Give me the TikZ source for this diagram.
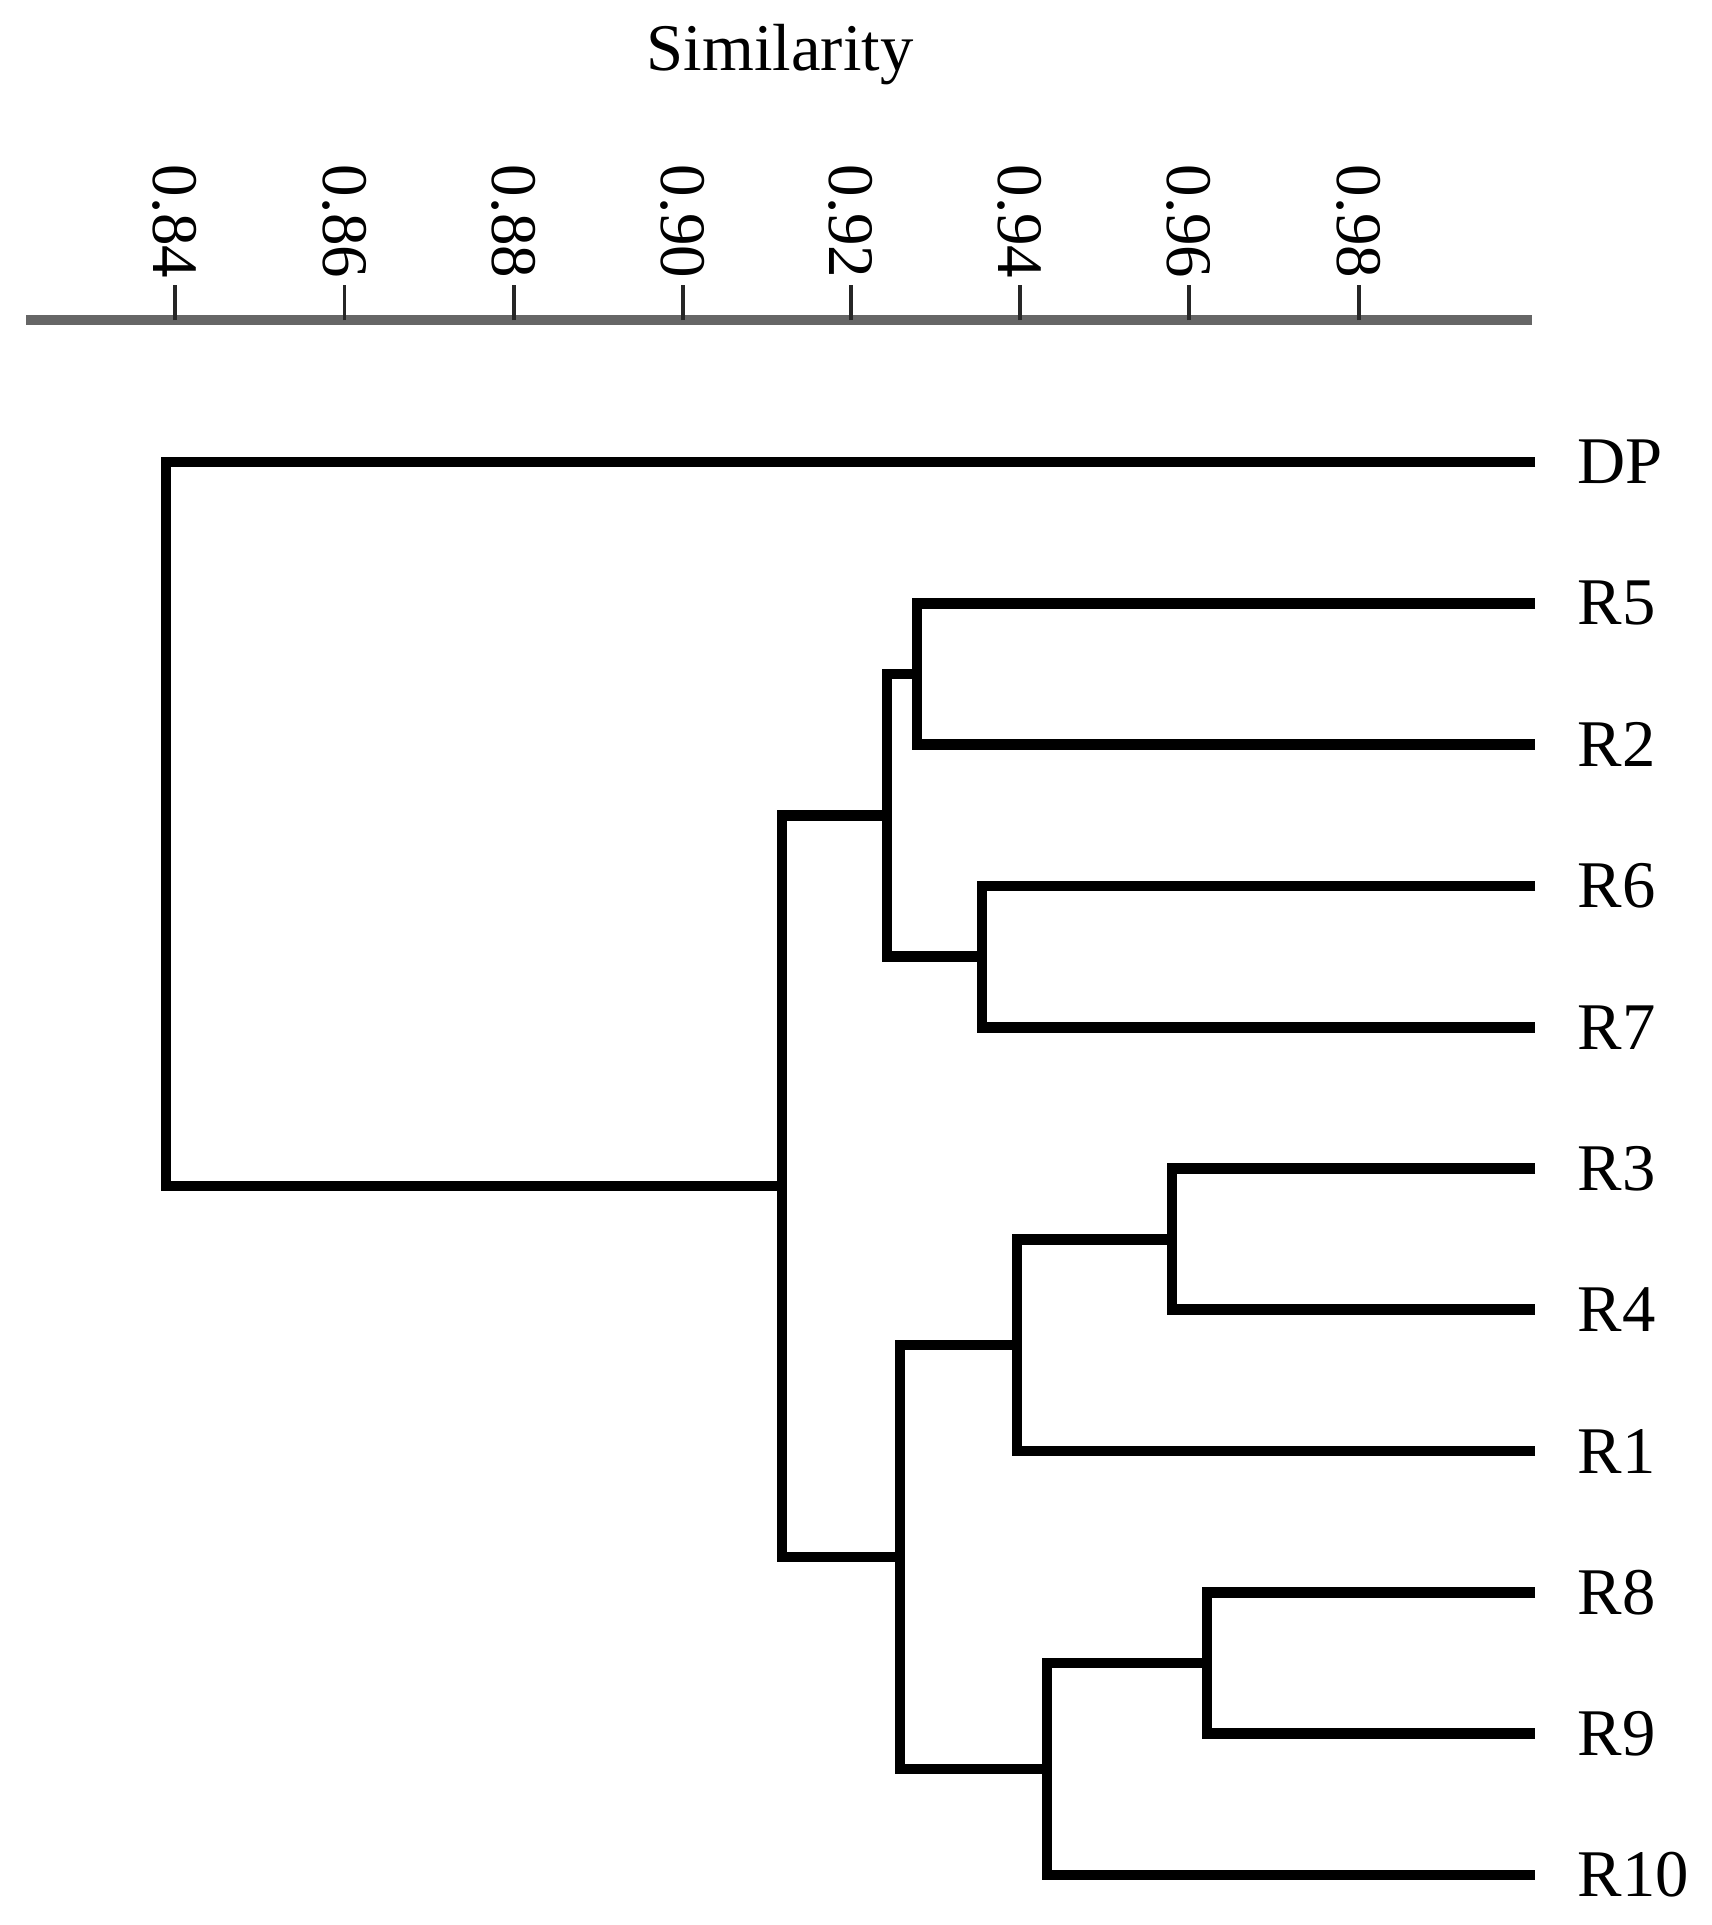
\documentclass[tikz,border=0pt]{standalone}
\usepackage{fontspec}
\setmainfont{Liberation Serif}
\begin{document}
\begin{tikzpicture}[x=0.3pt,y=-0.3pt,
  branch/.style={line width=3.2pt,black,line join=miter},
  axisline/.style={line width=2.8pt,black!60},
  tickmark/.style={line width=1.1pt,black!85},
  ticklabel/.style={rotate=-90,anchor=east,inner sep=0pt,font=\fontsize{19.5}{20}\selectfont},
  leaflabel/.style={anchor=west,inner sep=0pt,font=\fontsize{20}{22}\selectfont},
  titlelabel/.style={anchor=base,inner sep=0pt,font=\fontsize{20}{22}\selectfont}]
\useasboundingbox (0,0) rectangle (1711,1925);
% title
\node[titlelabel] (title) at (780,70) {Similarity};
% axis
\coordinate (axL) at (26,320);
\coordinate (axR) at (1532,320);
\draw[axisline] (axL) -- (axR);
\foreach \v/\x [count=\i] in {0.84/175,0.86/344.5,0.88/514,0.90/683,0.92/851,0.94/1020,0.96/1189,0.98/1359}{
  \coordinate (t\i) at (\x,320);
  \coordinate (tt\i) at (\x,285);
  \draw[tickmark] (t\i) -- (tt\i);
  \node[ticklabel] (tl\i) at (\x,279) {\v};
}
% leaves
\foreach \n/\y in {DP/462,R5/603.3,R2/744.6,R6/885.9,R7/1027.2,R3/1168.5,R4/1309.8,R1/1451.1,R8/1592.4,R9/1733.7,R10/1875}{
  \coordinate (\n e) at (1535,\y);
  \node[leaflabel] (\n) at (1577,\y) {\n};
}
% merge points
\coordinate (m52) at (917,674);
\coordinate (m67) at (982,956.5);
\coordinate (mU) at (887,815.3);
\coordinate (m34) at (1172,1239.2);
\coordinate (m341) at (1017,1345.1);
\coordinate (m89) at (1207,1663);
\coordinate (m8910) at (1047,1769);
\coordinate (mL) at (900,1557);
\coordinate (mMain) at (782,1186);
\coordinate (mRoot) at (166,824);
% branches
\draw[branch] (R5e) -| (m52) |- (R2e);
\draw[branch] (R6e) -| (m67) |- (R7e);
\draw[branch] (m52) -| (mU) |- (m67);
\draw[branch] (R3e) -| (m34) |- (R4e);
\draw[branch] (m34) -| (m341) |- (R1e);
\draw[branch] (R8e) -| (m89) |- (R9e);
\draw[branch] (m89) -| (m8910) |- (R10e);
\draw[branch] (m341) -| (mL) |- (m8910);
\draw[branch] (mU) -| (mMain) |- (mL);
\draw[branch] (DPe) -| (mRoot) |- (mMain);
\end{tikzpicture}
\end{document}
